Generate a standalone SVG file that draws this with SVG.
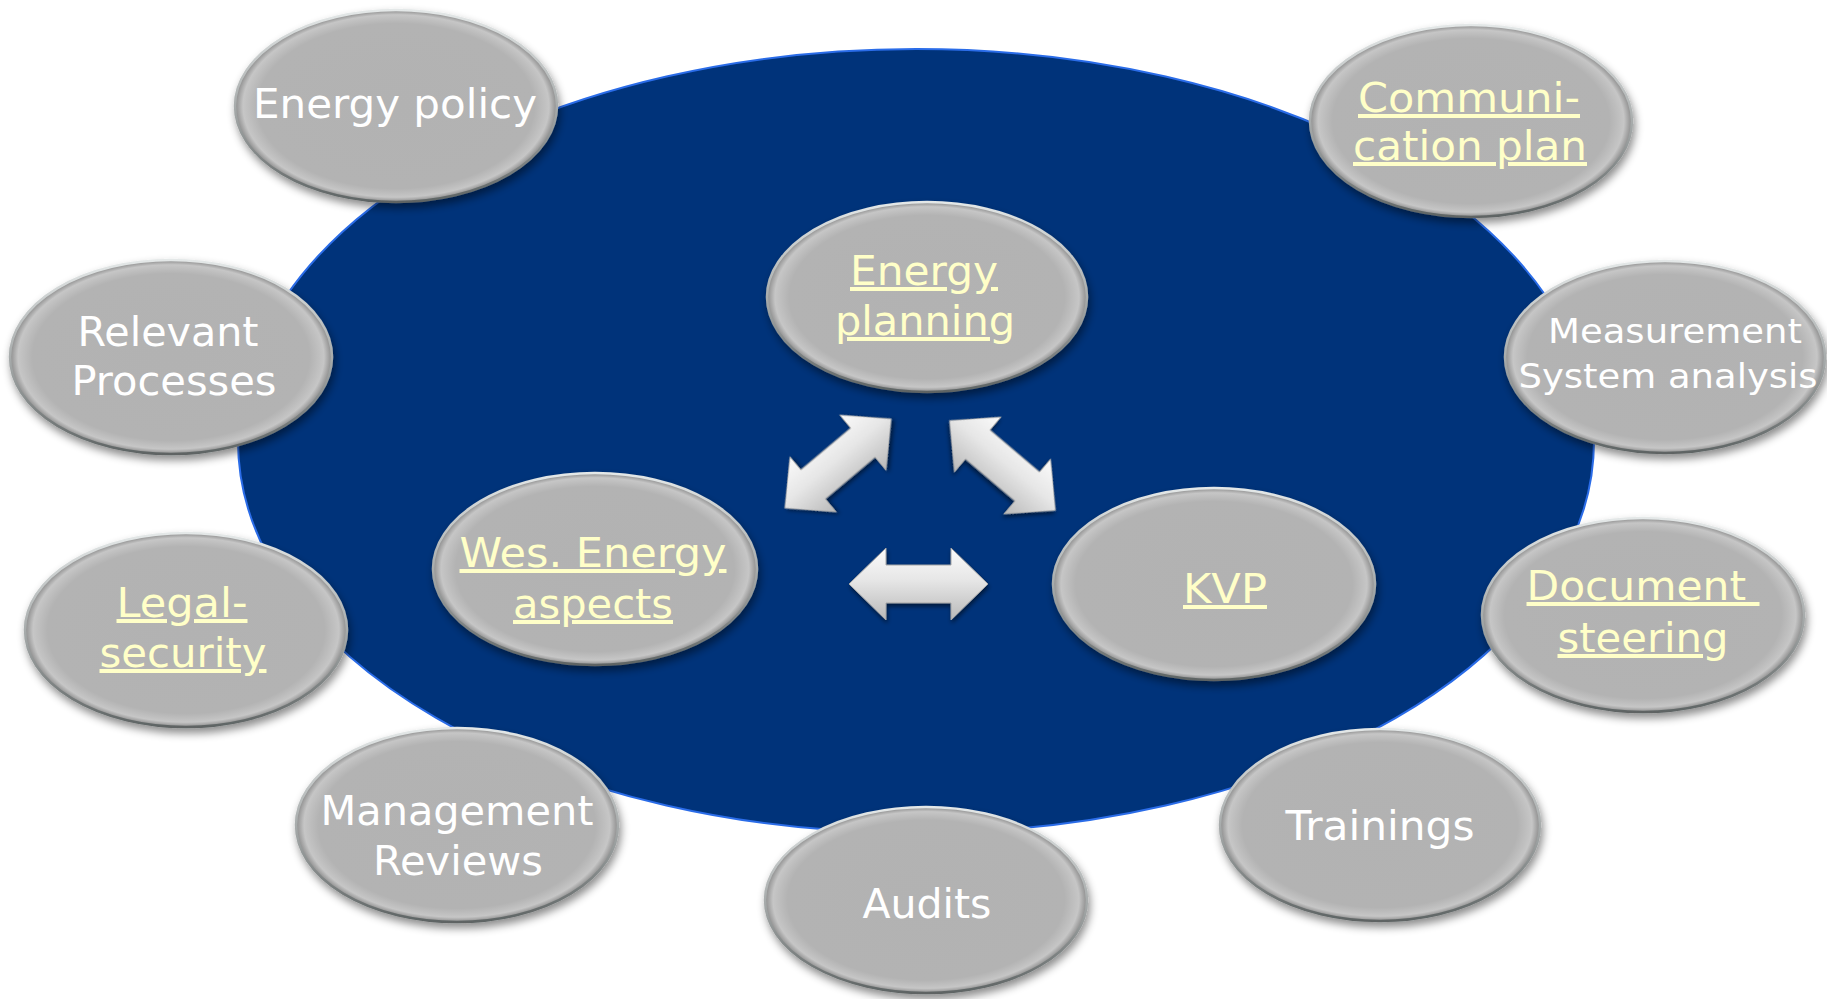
<svg xmlns="http://www.w3.org/2000/svg" width="1827" height="999" viewBox="0 0 1827 999">
<defs>
<radialGradient id="gfill" cx="0.5" cy="0.5" r="0.5">
<stop offset="0" stop-color="#b2b2b2"/>
<stop offset="0.86" stop-color="#b3b3b3"/>
<stop offset="0.95" stop-color="#c6c6c6"/>
<stop offset="1" stop-color="#8c8c8c"/>
</radialGradient>
<linearGradient id="rim" x1="0" y1="0" x2="0" y2="1">
<stop offset="0" stop-color="#e4e8e8"/>
<stop offset="0.5" stop-color="#a8acac"/>
<stop offset="1" stop-color="#5e6464"/>
</linearGradient>
<linearGradient id="afill" x1="0" y1="0" x2="0" y2="1">
<stop offset="0" stop-color="#fbfbfb"/>
<stop offset="0.45" stop-color="#e6e6e6"/>
<stop offset="1" stop-color="#b9b9b9"/>
</linearGradient>
<filter id="shadow" x="-20%" y="-20%" width="140%" height="150%">
<feDropShadow dx="2" dy="5" stdDeviation="4" flood-color="#000" flood-opacity="0.45"/>
</filter>
<filter id="ashadow" x="-20%" y="-30%" width="140%" height="160%">
<feDropShadow dx="1" dy="3" stdDeviation="2" flood-color="#000" flood-opacity="0.5"/>
</filter>
<path id="dbl" d="M -69.5,0 L -32.5,-36 L -32.5,-19 L 32.5,-19 L 32.5,-36 L 69.5,0 L 32.5,36 L 32.5,19 L -32.5,19 L -32.5,36 Z"/>
</defs>
<style>
.bub{fill:url(#gfill);stroke:url(#rim);stroke-width:2.5;filter:url(#shadow);}
.t{font-family:"DejaVu Sans","Verdana",sans-serif;font-size:40px;fill:#ffffff;text-anchor:middle;}
.lk{fill:#ffffc8;text-decoration:underline;}
.sm{font-size:33px;}
.arr{fill:url(#afill);stroke:#a4a4a4;stroke-width:1;filter:url(#ashadow);}
</style>
<rect width="1827" height="999" fill="#ffffff"/>
<g id="background">
<ellipse cx="916" cy="441" rx="678" ry="392" fill="#00337a" stroke="#2a6ce8" stroke-width="2"/>
</g>
<g id="connectors">
<use href="#dbl" class="arr" transform="translate(918.5,584)"/>
<use href="#dbl" class="arr" transform="translate(838,463.5) rotate(-40)"/>
<use href="#dbl" class="arr" transform="translate(1002.5,465.5) rotate(40.3)"/>
</g>
<g id="n-energy-policy">
<ellipse class="bub" cx="396" cy="106" rx="161" ry="96"/>
<text class="t" x="395" y="118" textLength="284" lengthAdjust="spacingAndGlyphs">Energy policy</text>
</g>
<g id="n-communication-plan">
<ellipse class="bub" cx="1471" cy="121" rx="161" ry="96"/>
<text class="t lk" x="1469" y="112" textLength="222" lengthAdjust="spacingAndGlyphs">Communi-</text>
<text class="t lk" x="1470" y="160" textLength="234" lengthAdjust="spacingAndGlyphs">cation plan</text>
</g>
<g id="n-energy-planning">
<ellipse class="bub" cx="927" cy="297" rx="160" ry="95"/>
<text class="t lk" x="924" y="285" textLength="148" lengthAdjust="spacingAndGlyphs">Energy</text>
<text class="t lk" x="925" y="335" textLength="180" lengthAdjust="spacingAndGlyphs">planning</text>
</g>
<g id="n-relevant-processes">
<ellipse class="bub" cx="171" cy="357" rx="161" ry="97"/>
<text class="t" x="168" y="346" textLength="181" lengthAdjust="spacingAndGlyphs">Relevant</text>
<text class="t" x="174" y="395" textLength="205" lengthAdjust="spacingAndGlyphs">Processes</text>
</g>
<g id="n-measurement">
<ellipse class="bub" cx="1665" cy="357" rx="160" ry="96"/>
<text class="t sm" x="1675" y="343" textLength="254" lengthAdjust="spacingAndGlyphs">Measurement</text>
<text class="t sm" x="1668" y="388" textLength="299" lengthAdjust="spacingAndGlyphs">System analysis</text>
</g>
<g id="n-wes-energy-aspects">
<ellipse class="bub" cx="595" cy="569" rx="162" ry="96"/>
<text class="t lk" x="593" y="567" textLength="267" lengthAdjust="spacingAndGlyphs">Wes. Energy</text>
<text class="t lk" x="593" y="618" textLength="160" lengthAdjust="spacingAndGlyphs">aspects</text>
</g>
<g id="n-kvp">
<ellipse class="bub" cx="1214" cy="584" rx="161" ry="96"/>
<text class="t lk" x="1225" y="603" textLength="84" lengthAdjust="spacingAndGlyphs">KVP</text>
</g>
<g id="n-legal-security">
<ellipse class="bub" cx="186" cy="630" rx="161" ry="97"/>
<text class="t lk" x="182" y="617" textLength="131" lengthAdjust="spacingAndGlyphs">Legal-</text>
<text class="t lk" x="183" y="667" textLength="167" lengthAdjust="spacingAndGlyphs">security</text>
</g>
<g id="n-document-steering">
<ellipse class="bub" cx="1643" cy="615" rx="161" ry="97"/>
<text class="t lk" x="1643" y="600" textLength="233" lengthAdjust="spacingAndGlyphs">Document&#160;</text>
<text class="t lk" x="1643" y="652" textLength="171" lengthAdjust="spacingAndGlyphs">steering</text>
</g>
<g id="n-management-reviews">
<ellipse class="bub" cx="457" cy="825" rx="161" ry="97"/>
<text class="t" x="457" y="825" textLength="273" lengthAdjust="spacingAndGlyphs">Management</text>
<text class="t" x="458" y="875" textLength="170" lengthAdjust="spacingAndGlyphs">Reviews</text>
</g>
<g id="n-trainings">
<ellipse class="bub" cx="1380" cy="825" rx="160" ry="96"/>
<text class="t" x="1380" y="840" textLength="189" lengthAdjust="spacingAndGlyphs">Trainings</text>
</g>
<g id="n-audits">
<ellipse class="bub" cx="926" cy="900" rx="161" ry="93"/>
<text class="t" x="927" y="918" textLength="129" lengthAdjust="spacingAndGlyphs">Audits</text>
</g>
</svg>
